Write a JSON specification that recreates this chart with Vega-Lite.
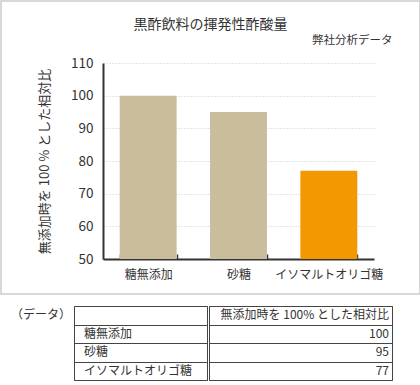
{
  "$schema": "https://vega.github.io/schema/vega-lite/v6.json",
  "padding": 0,
  "background": "white",
  "spacing": 10,
  "datasets": {
    "bars": [
      {"cat": "糖無添加", "value": 100},
      {"cat": "砂糖", "value": 95},
      {"cat": "イソマルトオリゴ糖", "value": 77}
    ],
    "table": [
      {"row": "header", "c0": "（データ）", "c1": "", "c2": "無添加時を 100% とした相対比"},
      {"row": "糖無添加", "c0": "", "c1": "糖無添加", "c2": "100"},
      {"row": "砂糖", "c0": "", "c1": "砂糖", "c2": "95"},
      {"row": "イソマルトオリゴ糖", "c0": "", "c1": "イソマルトオリゴ糖", "c2": "77"}
    ]
  },
  "config": {
    "font": "Noto Sans CJK JP",
    "view": {"stroke": null},
    "axis": {
      "labelFont": "Noto Sans CJK JP",
      "titleFont": "Noto Sans CJK JP",
      "labelColor": "#333333",
      "titleColor": "#333333",
      "titleFontWeight": "normal"
    },
    "title": {"font": "Noto Sans CJK JP", "color": "#333333", "fontWeight": "normal"},
    "text": {"color": "#333333", "font": "Noto Sans CJK JP"}
  },
  "vconcat": [
    {
      "width": 419,
      "height": 293,
      "view": {"stroke": "#cccccc", "strokeWidth": 1.5},
      "title": {"text": "黒酢飲料の揮発性酢酸量", "fontSize": 14, "offset": -31, "anchor": "middle", "frame": "group"},
      "data": {"name": "bars"},
      "mark": {"type": "bar"},
      "encoding": {
        "x": {
          "field": "cat",
          "type": "nominal",
          "sort": null,
          "scale": {"range": [102, 373], "paddingInner": 0.37, "paddingOuter": 0.185},
          "axis": {
            "orient": "bottom",
            "offset": -35,
            "labelAngle": 0,
            "labelFontSize": 12,
            "labelPadding": 15,
            "domainColor": "#333333",
            "domainWidth": 2,
            "tickBand": "extent",
            "tickSize": -5,
            "tickColor": "#333333",
            "tickWidth": 1.5,
            "title": "弊社分析データ",
            "titleX": 391,
            "titleY": -219,
            "titleAlign": "right",
            "titleBaseline": "middle",
            "titleFontSize": 11.5
          }
        },
        "y": {
          "field": "value",
          "type": "quantitative",
          "scale": {"domain": [50, 110], "range": [258, 62], "nice": false, "zero": false},
          "axis": {
            "offset": -102,
            "values": [50, 60, 70, 80, 90, 100, 110],
            "labelFontSize": 13.5,
            "labelPadding": 10,
            "ticks": false,
            "domainColor": "#333333",
            "domainWidth": 2,
            "grid": true,
            "gridColor": "#cccccc",
            "gridDash": [1, 2],
            "gridWidth": 1,
            "title": "無添加時を 100 % とした相対比",
            "titleFontSize": 13,
            "titlePadding": 19
          }
        },
        "y2": {"datum": 50},
        "color": {
          "field": "cat",
          "type": "nominal",
          "scale": {"domain": ["糖無添加", "砂糖", "イソマルトオリゴ糖"], "range": ["#c9bd9c", "#c9bd9c", "#f39800"]},
          "legend": null
        }
      }
    },
    {
      "spacing": 0,
      "hconcat": [
        {
          "width": 72,
          "height": 74,
          "data": {"name": "table"},
          "mark": {"type": "text", "align": "right", "dx": -2, "fontSize": 12},
          "encoding": {
            "y": {
              "field": "row",
              "type": "nominal",
              "sort": null,
              "scale": {"domain": ["header", "糖無添加", "砂糖", "イソマルトオリゴ糖"], "paddingInner": 0, "paddingOuter": 0},
              "axis": null
            },
            "x": {"datum": 1, "type": "quantitative", "scale": {"domain": [0, 1]}, "axis": null},
            "text": {"field": "c0", "type": "nominal"}
          }
        },
        {
          "width": 133,
          "height": 74,
          "view": {"stroke": "#444444", "strokeWidth": 1},
          "data": {"name": "table"},
          "mark": {"type": "text", "align": "left", "dx": 10, "fontSize": 12},
          "encoding": {
            "y": {
              "field": "row",
              "type": "nominal",
              "sort": null,
              "scale": {"domain": ["header", "糖無添加", "砂糖", "イソマルトオリゴ糖"], "paddingInner": 0, "paddingOuter": 0},
              "axis": {
                "title": null,
                "domain": false,
                "ticks": false,
                "labels": false,
                "grid": true,
                "tickBand": "extent",
                "gridColor": "#444444",
                "gridWidth": 1
              }
            },
            "x": {"datum": 0, "type": "quantitative", "scale": {"domain": [0, 1]}, "axis": null},
            "text": {"field": "c1", "type": "nominal"}
          }
        },
        {
          "width": 183,
          "height": 74,
          "view": {"stroke": "#444444", "strokeWidth": 1},
          "data": {"name": "table"},
          "mark": {"type": "text", "align": "right", "dx": -3, "fontSize": 12},
          "encoding": {
            "y": {
              "field": "row",
              "type": "nominal",
              "sort": null,
              "scale": {"domain": ["header", "糖無添加", "砂糖", "イソマルトオリゴ糖"], "paddingInner": 0, "paddingOuter": 0},
              "axis": {
                "title": null,
                "domain": false,
                "ticks": false,
                "labels": false,
                "grid": true,
                "tickBand": "extent",
                "gridColor": "#444444",
                "gridWidth": 1
              }
            },
            "x": {"datum": 1, "type": "quantitative", "scale": {"domain": [0, 1]}, "axis": null},
            "text": {"field": "c2", "type": "nominal"}
          }
        }
      ]
    }
  ]
}
